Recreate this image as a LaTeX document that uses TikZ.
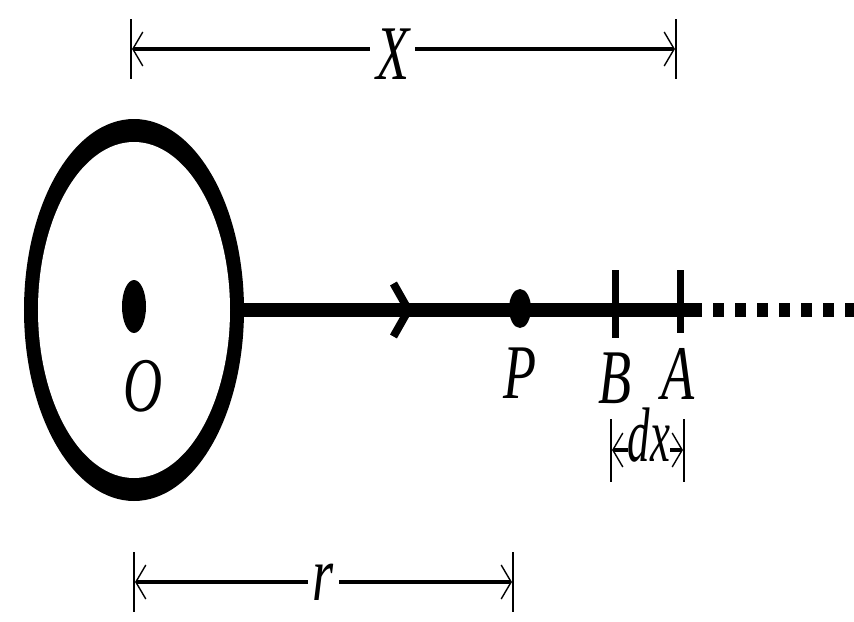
\documentclass[tikz,border=0pt]{standalone}
\usepackage{fontspec}
\setmainfont{Liberation Serif}
\usetikzlibrary{arrows.meta,shapes.geometric}

\begin{document}
\begin{tikzpicture}[
  lbl/.style={font=\fontsize{44}{48}\selectfont\itshape, xscale=0.7, inner sep=1pt},
  wire/.style={line width=0.28cm},
  blob/.style={ellipse, fill, inner sep=0pt, outer sep=0pt},
  tickmark/.style={fill, inner sep=0pt, outer sep=0pt, minimum width=0.14cm},
  vbar/.style={fill, inner sep=0pt, outer sep=0pt, minimum width=0.04cm},
  barb/.tip={Straight Barb[length=0.2cm, width=0.68cm, line width=0.8pt]},
  dim/.style={line width=2pt, {barb}-{barb}},
]
\useasboundingbox (0,0) rectangle (17.08,-12.44);

% Ring and centre O
\node[blob, minimum width=4.4cm, minimum height=7.64cm] (ring) at (2.68,-6.2) {};
\node[blob, fill=white, minimum width=3.84cm, minimum height=6.72cm] (hole) at (ring) {};
\node[blob, minimum width=0.48cm, minimum height=1.06cm] (o) at (2.68,-6.13) {};
\node[lbl] (o_lbl) at (2.86,-7.72) {O};

% Line through P, B, A
\coordinate (head) at (8.26,-6.2);
\coordinate (lend) at (14.04,-6.2);
\coordinate (dstart) at (14.26,-6.2);
\coordinate (far) at (17.1,-6.2);
\draw[wire] (ring.east) -- (lend);
\draw[wire, -{Straight Barb[length=0.3cm, width=1.06cm, line width=4.5pt]}] (ring.east) -- (head);
\draw[wire, dash pattern=on 0.22cm off 0.22cm] (dstart) -- (far);

\node[blob, minimum width=0.44cm, minimum height=0.78cm] (p) at (10.4,-6.17) {};
\node[tickmark, minimum height=1.36cm] (b) at (12.31,-6.08) {};
\node[tickmark, minimum height=1.26cm] (a) at (13.61,-6.03) {};

\node[lbl] (p_lbl) at (10.4,-7.46) {P};
\node[lbl] (b_lbl) at (12.3,-7.57) {B};
\node[lbl] (a_lbl) at (13.56,-7.48) {A};

% Dimension X
\node[vbar, minimum height=1.2cm] (x_l) at (2.62,-0.98) {};
\node[vbar, minimum height=1.2cm] (x_r) at (13.52,-0.98) {};
\draw[dim] (x_l) -- node[lbl, pos=0.48, fill=white, inner xsep=5pt, yshift=-0.1cm] (x_lbl) {X} (x_r);

% Dimension dx
\node[vbar, minimum height=1.26cm] (dx_l) at (12.22,-9.0) {};
\node[vbar, minimum height=1.26cm] (dx_r) at (13.68,-9.0) {};
\draw[dim] (dx_l) -- node[lbl, xscale=0.83, pos=0.52, fill=white, inner sep=0pt, yshift=0.29cm] (dx_lbl) {dx} (dx_r);

% Dimension r
\node[vbar, minimum height=1.2cm] (r_l) at (2.68,-11.64) {};
\node[vbar, minimum height=1.2cm] (r_r) at (10.26,-11.64) {};
\draw[dim] (r_l) -- node[lbl, pos=0.5, fill=white, inner xsep=4pt] (r_lbl) {r} (r_r);
\end{tikzpicture}
\end{document}
